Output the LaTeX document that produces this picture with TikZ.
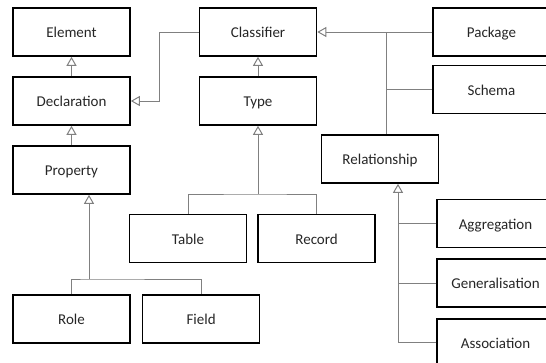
\documentclass[tikz,border=0pt]{standalone}
\usepackage{fontspec}
\setmainfont{Carlito}
\usepackage{tikz}
\usetikzlibrary{positioning}
\usetikzlibrary{calc}
\usetikzlibrary{arrows.meta}
\usepackage{xcolor}
\definecolor{mygray}{RGB}{128,128,128}

\begin{document}
\begin{tikzpicture}[x=1pt,y=-1pt,
    box/.style={draw=black, line width=1.6pt, minimum width=117pt, minimum height=48pt,
                inner sep=0pt, text height=11pt, text depth=0pt,
                font=\fontsize{15}{18}\selectfont, text=black!85},
    link/.style={draw=mygray, line width=1pt},
    inherit/.style={link, -{Triangle[open, length=9pt, width=10pt, fill=white]}}]

\useasboundingbox (0,0) rectangle (546,362);
\clip (0,0) rectangle (546,362);

%L: left column
\node[box] (elem) at (71.5,32) {Element};
\node[box] (decl) at (71.5,101) {Declaration};
\node[box] (prop) at (71.5,170) {Property};
\node[box] (role) at (71.5,319) {Role};
\node[box, right = 11pt of role] (fld) {Field};

%M: middle column
\node[box] (clas) at (258,32) {Classifier};
\node[box] (type) at (258,101) {Type};
\node[box] (tab) at (188,238.5) {Table};
\node[box, right = 10pt of tab] (rec) {Record};
\node[box] (rel) at (380,159) {Relationship};

%R: right column (cut off by the border)
\node[box] (pack) at (491.5,32) {Package};
\node[box] (schm) at (491.5,89.5) {Schema};
\node[box] (aggr) at (495.5,223.5) {Aggregation};
\node[box, below = 10pt of aggr] (gnr) {Generalisation};
\node[box, below = 10pt of gnr] (asc) {Association};

% joints
\coordinate (cj) at (159,101);
\coordinate (tj) at (258,194);
\coordinate (pj) at (89,279);
\coordinate (kj) at (386,32);
\coordinate (rj) at ([xshift=18pt]rel.south);

% generalisations
\draw[inherit] (decl) -- (elem);
\draw[inherit] (prop) -- (decl);
\draw[inherit] (type) -- (clas);
\draw[inherit] (pack.west) -- (clas.east);
\draw[inherit] (clas.west) -| (cj) -- (decl.east);

\draw[link] (tab.north) |- (tj) -| (rec.north);
\draw[inherit] (tj) -- (type.south);

\draw[link] (role.north) |- (pj) -| (fld.north);
\draw[inherit] (pj) -- (pj |- prop.south);

\draw[link] (kj) -- (kj |- rel.north);
\draw[link] (kj |- schm.west) -- (schm.west);

\draw[inherit] (asc.west) -| (rj);
\draw[link] (aggr.west) -- (aggr.west -| rj);
\draw[link] (gnr.west) -- (gnr.west -| rj);

\end{tikzpicture}
\end{document}
